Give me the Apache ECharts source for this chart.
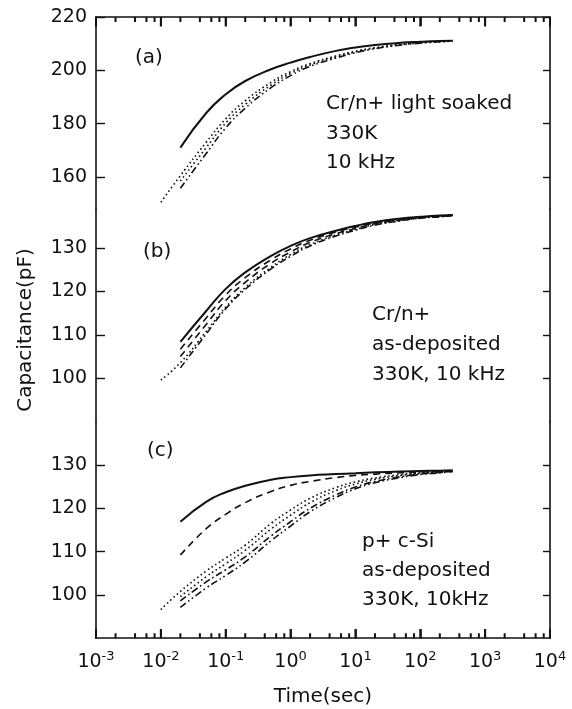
<!DOCTYPE html>
<html>
<head>
<meta charset="utf-8">
<script src="https://cdn.jsdelivr.net/npm/echarts@6/dist/echarts.min.js"></script>
<style>
html,body{margin:0;padding:0;background:#fff;}
#chart{width:572px;height:709px;}
</style>
</head>
<body>
<div id="chart"></div>
<script>
// ---- data ----
const timesFrom002 = [0.02, 0.05, 0.1, 0.2, 0.5, 1, 2, 5, 10, 20, 50, 100, 200, 316];
const timesFrom001 = [0.01, 0.02, 0.05, 0.1, 0.2, 0.5, 1, 2, 5, 10, 20, 50, 100, 200, 316];

// panel (a) Cr/n+ light soaked
const aSolid   = [171, 184, 191, 196, 200.4, 202.9, 205, 207.3, 208.6, 209.5, 210.3, 210.7, 211, 211.1];
const aDotted1 = [150.5, 160.5, 173, 181.8, 188.6, 195.5, 199.5, 202.5, 205.4, 207.2, 208.5, 209.7, 210.4, 210.8, 211];
const aDotted2 = [158.5, 171, 180.2, 187.2, 194.5, 198.8, 202, 205, 206.9, 208.3, 209.6, 210.3, 210.7, 211];
const aDashDot = [155.8, 168.8, 178.4, 185.8, 193.5, 198, 201.5, 204.6, 206.6, 208.1, 209.5, 210.2, 210.7, 211];

// panel (b) Cr/n+ as-deposited
const bSolid   = [108.4, 115.5, 120.6, 124.4, 128.2, 130.5, 132.3, 134, 135.1, 136, 136.8, 137.2, 137.5, 137.6];
const bDash1   = [106.7, 113.9, 119.2, 123.2, 127.3, 129.8, 131.8, 133.7, 134.8, 135.8, 136.6, 137.1, 137.4, 137.6];
const bDash2   = [105, 112.4, 117.9, 122.1, 126.5, 129.1, 131.3, 133.3, 134.5, 135.6, 136.5, 137, 137.3, 137.5];
const bDashDot = [102.4, 110.2, 116, 120.5, 125.2, 128.1, 130.5, 132.8, 134.1, 135.3, 136.3, 136.9, 137.2, 137.5];
const bDotted  = [99.6, 103.6, 110.8, 116.4, 120.9, 125.6, 128.5, 130.8, 133, 134.3, 135.4, 136.3, 136.9, 137.3, 137.5];

// panel (c) p+ c-Si as-deposited
const cSolid       = [116.9, 121.5, 123.7, 125.2, 126.6, 127.2, 127.6, 127.9, 128.1, 128.3, 128.5, 128.6, 128.7, 128.8];
const cDashed      = [109.2, 115.3, 118.6, 121.3, 123.9, 125.3, 126.2, 127.1, 127.6, 127.9, 128.2, 128.4, 128.5, 128.6];
const cDotted1     = [96.6, 100.8, 105.5, 108.5, 111.5, 116.5, 119.6, 122.3, 124.8, 126.1, 127, 127.8, 128.2, 128.5, 128.7];
const cDotted2     = [99.6, 104.2, 107.2, 110.3, 115.2, 118.4, 121.3, 124.1, 125.6, 126.7, 127.6, 128.1, 128.4, 128.6];
const cDashDot     = [98.6, 103, 105.8, 108.8, 113.6, 116.9, 120, 123.1, 124.9, 126.2, 127.3, 127.9, 128.3, 128.5];
const cDashDotDot  = [97.1, 101.6, 104.5, 107.6, 112.5, 115.9, 119.2, 122.5, 124.5, 125.9, 127.1, 127.8, 128.2, 128.5];

// tick labels / tick positions
const yTicksA = [160, 180, 200, 220];
const yTicksB = [100, 110, 120, 130];
const yTicksC = [100, 110, 120, 130];
const xMajorTicks = [0.001, 0.01, 0.1, 1, 10, 100, 1000, 10000];
const minorMultipliers = [2, 4, 6, 8];

// texts
const panelLabels = ['(a)', '(b)', '(c)'];
const noteA = ['Cr/n+ light soaked', '330K', '10 kHz'];
const noteB = ['Cr/n+', 'as-deposited', '330K, 10 kHz'];
const noteC = ['p+ c-Si', 'as-deposited', '330K, 10kHz'];
const xTitle = 'Time(sec)';
const yTitle = 'Capacitance(pF)';

// ---- build ----
const FONT = 'DejaVu Sans';
const BLACK = '#111';
const xMinorTicks = [];
xMajorTicks.slice(0, -1).forEach(d => minorMultipliers.forEach(m => xMinorTicks.push(+(m * d).toPrecision(3))));

function pairs(t, v) { return v.map((y, i) => [t[i], y]); }

const DOT = [1.6, 2.8];
const DASH = [7, 5];
const DASHDOT = [7, 3, 1.6, 3];
const DASHDOTDOT = [7, 3, 1.6, 3, 1.6, 3];

function line(data, xi, yi, type, width) {
  return {
    type: 'line', data: data, xAxisIndex: xi, yAxisIndex: yi,
    showSymbol: false, smooth: 0.5, clip: false,
    lineStyle: { color: BLACK, width: width || 1.6, type: type }
  };
}
// x tick marks along top/bottom frame, as broken line segments on the axis scale
function tickSeries(times, base, tip, xi, yi) {
  const d = [];
  times.forEach(t => { d.push([t, base], [t, tip], [t, '-']); });
  return {
    type: 'line', data: d, xAxisIndex: xi, yAxisIndex: yi, silent: true,
    showSymbol: false, connectNulls: false, clip: false, z: 10,
    lineStyle: { color: BLACK, width: 2, type: 'solid' }
  };
}

const GRID_L = 96, GRID_W = 454;
const grids = [
  { left: GRID_L, width: GRID_W, top: 17, height: 192 },
  { left: GRID_L, width: GRID_W, top: 209, height: 212.7 },
  { left: GRID_L, width: GRID_W, top: 421.7, height: 216.5 }
];

const axisLineStyle = { show: true, onZero: false, lineStyle: { color: BLACK, width: 1.6 } };

function logX(gi, pos, showLabel) {
  return {
    type: 'log', logBase: 10, gridIndex: gi, position: pos, min: 0.001, max: 10000,
    axisLine: axisLineStyle,
    axisTick: { show: true, inside: true, length: 9, lineStyle: { color: BLACK, width: 1.6 } },
    axisLabel: showLabel ? {
      show: true, margin: 12, color: BLACK,
      formatter: v => '{b|10}{s|' + Math.round(Math.log10(v)) + '}',
      rich: {
        b: { fontSize: 19, fontFamily: FONT, color: BLACK },
        s: { fontSize: 13, fontFamily: FONT, color: BLACK, padding: [0, 0, 10, 0] }
      }
    } : { show: false },
    splitLine: { show: false }, minorTick: { show: false }
  };
}
function yAx(gi, pos, min, max, tickVals, showLabel) {
  return {
    type: 'value', gridIndex: gi, position: pos, min: min, max: max,
    axisLine: axisLineStyle,
    axisTick: { show: true, inside: true, length: pos === 'left' ? 9 : 7, customValues: tickVals, lineStyle: { color: BLACK, width: 1.4 } },
    axisLabel: showLabel ? { show: true, customValues: tickVals, margin: 9, fontSize: 19, fontFamily: FONT, color: BLACK } : { show: false },
    splitLine: { show: false }
  };
}

const graphics = [];
function txt(x, y, s) {
  graphics.push({
    type: 'text', x: x, y: y,
    style: { text: s, fontSize: 20, fontFamily: FONT, fill: BLACK, textAlign: 'left', textVerticalAlign: 'middle' }
  });
}
txt(135, 58, panelLabels[0]);
txt(143, 252, panelLabels[1]);
txt(147, 451, panelLabels[2]);
noteA.forEach((s, i) => txt(326, 104 + i * 29.5, s));
noteB.forEach((s, i) => txt(372, 315 + i * 30, s));
noteC.forEach((s, i) => txt(362, 542 + i * 29, s));
graphics.push({ type: 'text', x: 323, y: 697, style: { text: xTitle, fontSize: 20, fontFamily: FONT, fill: BLACK, textAlign: 'center', textVerticalAlign: 'middle' } });
graphics.push({ type: 'text', x: 26, y: 330, rotation: Math.PI / 2, style: { text: yTitle, fontSize: 20, fontFamily: FONT, fill: BLACK, textAlign: 'center', textVerticalAlign: 'middle' } });

const option = {
  animation: false,
  backgroundColor: '#fff',
  grid: grids,
  xAxis: [
    logX(0, 'top', false),                                   // 0 panel a (top frame)
    Object.assign(logX(1, 'bottom', false), { show: false }), // 1 panel b
    logX(2, 'bottom', true)                                   // 2 panel c (bottom frame, labels)
  ],
  yAxis: [
    yAx(0, 'left', 148, 220, yTicksA, true),
    yAx(0, 'right', 148, 220, yTicksA, false),
    yAx(1, 'left', 90, 139, yTicksB, true),
    yAx(1, 'right', 90, 139, yTicksB, false),
    yAx(2, 'left', 90, 140, yTicksC, true),
    yAx(2, 'right', 90, 140, yTicksC, false)
  ],
  series: [
    line(pairs(timesFrom002, aSolid), 0, 0, 'solid', 2),
    line(pairs(timesFrom001, aDotted1), 0, 0, DOT),
    line(pairs(timesFrom002, aDotted2), 0, 0, DOT),
    line(pairs(timesFrom002, aDashDot), 0, 0, DASHDOTDOT),

    line(pairs(timesFrom002, bSolid), 1, 2, 'solid', 2),
    line(pairs(timesFrom002, bDash1), 1, 2, DASH),
    line(pairs(timesFrom002, bDash2), 1, 2, DASH),
    line(pairs(timesFrom002, bDashDot), 1, 2, DASHDOT),
    line(pairs(timesFrom001, bDotted), 1, 2, DOT),

    line(pairs(timesFrom002, cSolid), 2, 4, 'solid', 2),
    line(pairs(timesFrom002, cDashed), 2, 4, DASH),
    line(pairs(timesFrom001, cDotted1), 2, 4, DOT),
    line(pairs(timesFrom002, cDotted2), 2, 4, DOT),
    line(pairs(timesFrom002, cDashDot), 2, 4, DASHDOT),
    line(pairs(timesFrom002, cDashDotDot), 2, 4, DASHDOTDOT),

    // frame ticks: top edge (panel a scale), bottom edge (panel c scale)
    tickSeries(xMajorTicks, 220, 216.4, 0, 0),
    tickSeries(xMinorTicks, 220, 218.1, 0, 0),
    tickSeries(xMajorTicks, 90, 92.1, 2, 4),
    tickSeries(xMinorTicks, 90, 91.15, 2, 4)
  ],
  graphic: graphics
};

const chart = echarts.init(document.getElementById('chart'), null, { renderer: 'canvas' });
chart.setOption(option);
</script>
</body>
</html>
